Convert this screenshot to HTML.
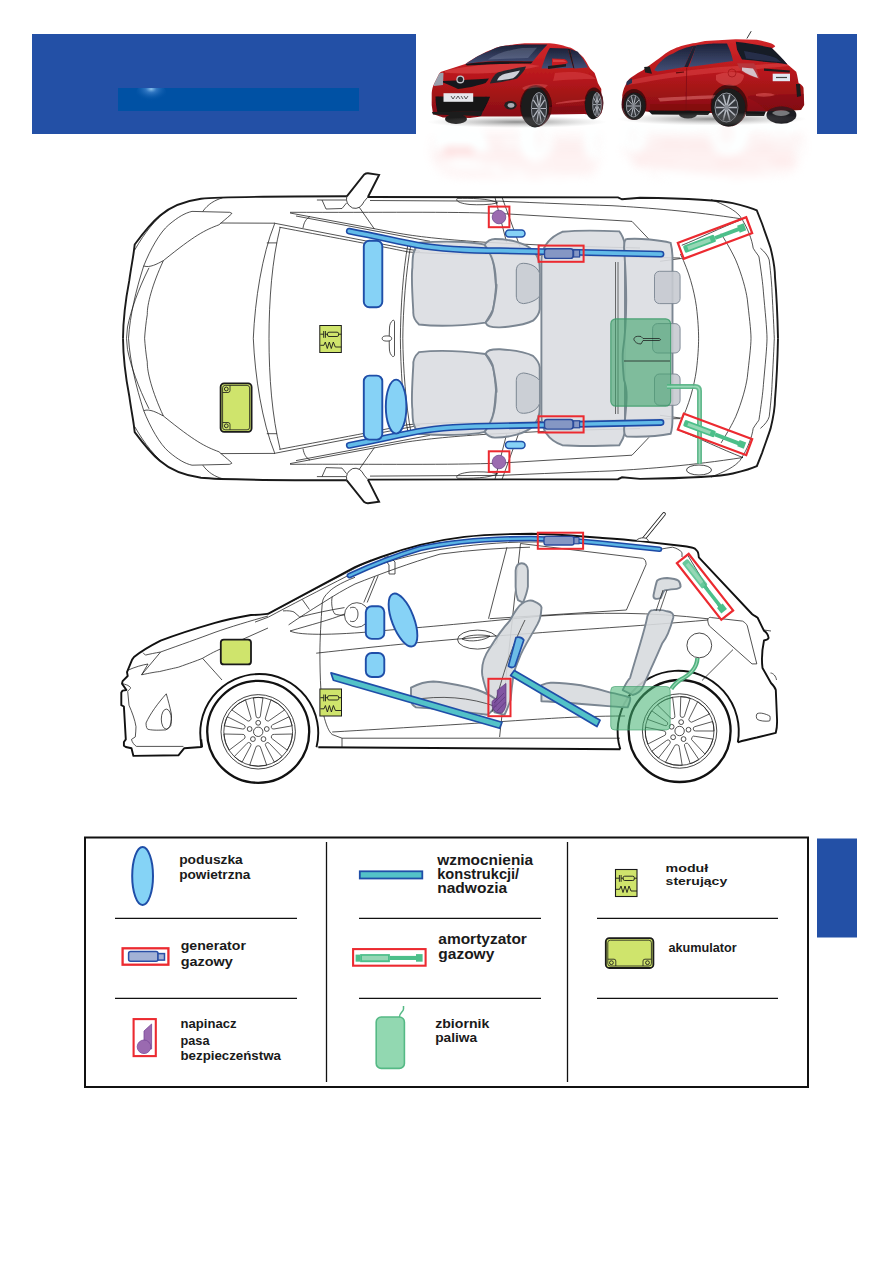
<!DOCTYPE html>
<html><head><meta charset="utf-8">
<style>
html,body{margin:0;padding:0;background:#fff;width:893px;height:1263px;overflow:hidden;}
svg{position:absolute;left:0;top:0;display:block;}
text{font-family:"Liberation Sans",sans-serif;font-weight:bold;fill:#1a1a1a;}
</style></head><body>
<svg width="893" height="1263" viewBox="0 0 893 1263">
<defs>
</defs>
<!-- HEADER -->
<rect x="32" y="34" width="384" height="100" fill="#2350a6"/>
<defs><radialGradient id="glow" cx="0.5" cy="0.3" r="0.6"><stop offset="0" stop-color="#8cc4ec" stop-opacity="1"/><stop offset="0.3" stop-color="#3f82cc" stop-opacity="0.75"/><stop offset="1" stop-color="#0051a4" stop-opacity="0"/></radialGradient></defs>
<rect x="118" y="88" width="241" height="23" fill="#0051a4"/>
<ellipse cx="151.2" cy="93" rx="15" ry="10" fill="url(#glow)"/>
<rect x="118" y="80" width="60" height="8" fill="#2350a6"/>
<rect x="817" y="34" width="40" height="100" fill="#2350a6"/>

<!-- PHOTOS placeholder -->
<g id="photos">
<defs>
 <linearGradient id="redbody" x1="0" y1="0" x2="0" y2="1">
  <stop offset="0" stop-color="#d0262a"/>
  <stop offset="0.45" stop-color="#b8181c"/>
  <stop offset="1" stop-color="#860e12"/>
 </linearGradient>
 <linearGradient id="glass" x1="0" y1="0" x2="0" y2="1">
  <stop offset="0" stop-color="#1c2238"/>
  <stop offset="1" stop-color="#424e76"/>
 </linearGradient>
 <linearGradient id="fade" x1="0" y1="0" x2="0" y2="1">
  <stop offset="0" stop-color="#fff" stop-opacity="1"/>
  <stop offset="0.45" stop-color="#fff" stop-opacity="0.75"/>
  <stop offset="1" stop-color="#fff" stop-opacity="0"/>
 </linearGradient>
 <mask id="fm1" maskUnits="userSpaceOnUse" x="400" y="124" width="420" height="90">
  <rect x="400" y="124" width="420" height="62" fill="url(#fade)"/>
 </mask>
 <radialGradient id="shadow1" cx="0.5" cy="0.5" r="0.5">
  <stop offset="0" stop-color="#444" stop-opacity="0.6"/>
  <stop offset="1" stop-color="#999" stop-opacity="0"/>
 </radialGradient>
 <filter id="blur3" x="-20%" y="-30%" width="140%" height="160%"><feGaussianBlur stdDeviation="3"/></filter>
 <filter id="reflf" x="-10%" y="-20%" width="120%" height="140%"><feGaussianBlur stdDeviation="5"/><feColorMatrix type="matrix" values="0 0 0 0 0.98  -0.6 0 0 0 1.05  -0.6 0 0 0 1.05  0 0 0 1 0"/></filter>
 <filter id="blur1" x="-10%" y="-10%" width="120%" height="120%"><feGaussianBlur stdDeviation="0.5"/></filter>
</defs>

<!-- reflections -->
<g mask="url(#fm1)">
 <g filter="url(#reflf)">
  <use href="#car1" transform="translate(0 248) scale(1 -1)"/>
  <use href="#car2" transform="translate(0 242) scale(1 -1)"/>
 </g>
</g>

<g id="car1" filter="url(#blur1)">
 <!-- body -->
 <path fill="url(#redbody)" d="M431.7 105 L431.7 93.2 C432 89 433 86 434 84 L439 74 C440 72.5 441 72 442 71.6 L465.3 64 C475 57.5 485 52 492.2 49.6 C497 47 502 46 505.6 45.6 C515 44.3 520 43.5 527.4 43.3 L549.8 43.3 C553 43.5 556 44 558.8 44.5 C565 46 570 47.5 572.2 48.4 C578 52 581 55 583.4 57.4 C586 61 588 65 590.1 68.6 L594.6 73.1 C596 77 597 80 598 83.2 L601.3 89 L601.5 113 L598 116.5 L584.5 114 L549 114.5 L519.7 116.5 L481 116.5 L470 118 L443 117.5 L433 114 Z"/>
 <ellipse cx="536" cy="106" rx="16" ry="21" fill="#3a0608" opacity="0.85"/>
 <ellipse cx="594" cy="103" rx="9.5" ry="15.5" fill="#3a0608" opacity="0.85"/>

 <!-- darker lower sill -->
 <path fill="#7d0c10" opacity="0.55" d="M549 107 C565 106.5 575 106 584.5 105.5 L584.5 111.5 L549 113.3 Z"/>
 <path fill="#ef6a6a" opacity="0.45" d="M556 103 C565 100.5 580 99.5 588 99.5 C585 101.5 570 102.8 556 104 Z"/>
 <!-- tires -->
 <ellipse cx="456" cy="119" rx="11" ry="5" fill="#1c1c1e"/>
 <ellipse cx="535" cy="107" rx="13.8" ry="20.4" fill="#1a1b1e"/>
 <ellipse cx="539" cy="108.5" rx="7.6" ry="16" fill="#34373c" stroke="#9a9ea6" stroke-width="0.9"/>
 <path d="M540.37 108.50 L545.99 108.50 M540.11 110.19 L544.66 117.15 M539.42 111.24 L541.16 122.50 M538.58 111.24 L536.84 122.50 M537.89 110.19 L533.34 117.15 M537.63 108.50 L532.01 108.50 M537.89 106.81 L533.34 99.85 M538.58 105.76 L536.84 94.50 M539.42 105.76 L541.16 94.50 M540.11 106.81 L544.66 99.85 " stroke="#b4b8c0" stroke-width="1.2" fill="none"/>
 <ellipse cx="539" cy="108.5" rx="1.52" ry="3.20" fill="#8a8e96"/>
 <ellipse cx="593" cy="105" rx="8" ry="14.2" fill="#1a1b1e"/>
 <ellipse cx="597" cy="104.6" rx="4.3" ry="12" fill="#34373c" stroke="#9a9ea6" stroke-width="0.9"/>
 <path d="M597.77 104.60 L600.96 104.60 M597.63 105.87 L600.20 111.09 M597.24 106.65 L598.22 115.10 M596.76 106.65 L595.78 115.10 M596.37 105.87 L593.80 111.09 M596.23 104.60 L593.04 104.60 M596.37 103.33 L593.80 98.11 M596.76 102.55 L595.78 94.10 M597.24 102.55 L598.22 94.10 M597.63 103.33 L600.20 98.11 " stroke="#b4b8c0" stroke-width="0.9" fill="none"/>
 <ellipse cx="597" cy="104.6" rx="0.86" ry="2.40" fill="#8a8e96"/>
 <!-- hood highlights -->
 <path fill="#e6504f" opacity="0.5" d="M445 71 C460 67 480 65 500 64 C515 63.5 530 64 540 66 C525 70 505 72 490 73 C470 74 455 73.5 445 72.5 Z"/>
 <path fill="#e85a5a" opacity="0.35" d="M555 73 C570 71 588 71 596 79 C585 79 566 79.5 553 81 Z"/>
 <path fill="#f28282" opacity="0.3" d="M522 88 C528 84 538 83 548 85 L545 88 C538 87 530 88 524 90 Z"/>
 <!-- windshield -->
 <path fill="url(#glass)" d="M465.3 64.2 C475 57.5 482 53.5 487.7 51.8 C495 48 500 46.3 505.6 45.8 C515 44.8 520 44.5 525 44.5 L547.5 44.5 C542 50 537 56 533 61.3 C520 61 500 61 490 61.3 C480 62 472 63 465.3 64.2 Z"/>
 <path fill="#a2acc4" opacity="0.28" d="M488 59.5 C496 54 508 50 522 48 L537 47.8 L528 58 Z"/>
 <path fill="#15171d" d="M465.3 64.2 C475 62.5 490 61.5 505 61.3 L533 61.5 L531 63.5 C510 63.5 490 64 467 65.5 Z"/>
 <!-- side windows -->
 <path fill="url(#glass)" d="M541.5 68.6 C544 60 547 52 549.8 47.9 L567.7 48.4 L573.3 68 Z"/>
 <path fill="url(#glass)" d="M570 49 L577.8 51.8 C582 57 585 62 587.9 67.5 L574.4 68.6 Z"/>
 <path fill="#1a1c24" d="M567.7 48.4 L570 49 L574.4 68.6 L573.3 68 Z"/>
 <!-- mirror -->
 <path fill="#c81c20" d="M552 58.5 L564 59 C566 59.6 567.7 61 567.7 63 C565 64.5 560 65.5 552 66.4 Z"/>
 <path fill="#e45858" opacity="0.6" d="M553 59.5 L563 60 C564.5 60.5 565.5 61 566 62 L553 62 Z"/>
 <path fill="#1b1b1e" d="M548 66 L566 64 L566 66.5 L548 69 Z"/>
 <!-- headlight -->
 <path fill="#25272d" d="M490 83 C492 78 494.5 74.5 497.8 72.5 C505 70.5 512 69 518 67.8 L526 66.6 C525 70 522 74 517 78.5 C510 80.5 500 82.5 490 83.5 Z"/>
 <path fill="#cdd0d8" d="M497 80.5 C498.5 77 501 74.8 505 73.8 L520 70.5 C518 74 516 76.5 513 78.3 C507 79.5 502 80.2 497 80.5 Z"/>
 <path fill="#9aa0ac" d="M434 84 L439 74 C440.5 72.8 442 72.5 443.5 73 L443 85 L434 86 Z"/>
 <!-- grille -->
 <path fill="#17171a" d="M443 81 C460 80.2 475 79.4 489 78.5 C488 80 487 81.5 485.5 83 C478 85.5 470 87.5 458 89.1 C452 86 447 84 443 82.5 Z"/>
 <circle cx="460.3" cy="79.4" r="4" fill="#c0c2c8"/>
 <circle cx="460.3" cy="79.4" r="2.7" fill="#25252a"/>
 <path fill="#121214" d="M435.5 96.5 L490 96.8 C488.5 101 486 106 483.2 111.1 L437.5 112.3 C436.2 107 435.6 102 435.5 96.5 Z"/>
 <rect x="443.5" y="93.2" width="29.7" height="8.6" fill="#e6e8ec"/>
 <path d="M451 96 L453 99 L455 96 M456 99 L458 96 L460 99 M461 96 L463 99 M464 96 L466 99 L468 96" fill="none" stroke="#333" stroke-width="0.8"/>
 <path fill="#1a1a1d" d="M432 112 L483 111 L481 116 L433 114.5 Z"/>
 <ellipse cx="510.5" cy="105.3" rx="6.2" ry="4.2" fill="#202124"/>
 <ellipse cx="511" cy="105.3" rx="3.4" ry="2.4" fill="#a8acb4"/>
</g>

<g id="car2" filter="url(#blur1)">
 <path fill="url(#redbody)" d="M622.3 108 L622.3 95 C623 90 625 86 626.2 83.8 C628 80 630 78 631.8 77 C636 74 640 72 643 70.3 C647 67 650 65 652 63.6 C657 60 662 56 665.4 53.5 C672 49 678 47 682.2 45.7 C688 44 692 43.2 695.6 42.9 L705 41 L735.8 39.2 L756.7 39.8 C763 41 768 42.5 771.5 43.5 C773.5 44.5 775 45.5 775.2 46.6 L772.1 48.4 L787.5 64.4 C791 67 794 70 796.2 71.8 C797.5 76 798 80 798.6 82.9 C801 84 803 86 803.5 87.8 L804.2 105 L801 110 L766 111.5 L745.6 112 L711 113 L650 112 L635 110 Z"/>
 <ellipse cx="634" cy="104.5" rx="12.5" ry="15.5" fill="#3a0608" opacity="0.85"/>
 <ellipse cx="729" cy="105.5" rx="18.5" ry="21" fill="#3a0608" opacity="0.85"/>

 <ellipse cx="688" cy="114.5" rx="9" ry="4" fill="#1c1c1e"/>
 <ellipse cx="634.6" cy="106.2" rx="11" ry="13.6" fill="#1a1b1e"/>
 <ellipse cx="633.5" cy="106" rx="7.2" ry="11" fill="#34373c" stroke="#9a9ea6" stroke-width="0.9"/>
 <path d="M634.80 106.00 L640.12 106.00 M634.55 107.16 L638.86 111.95 M633.90 107.88 L635.55 115.62 M633.10 107.88 L631.45 115.62 M632.45 107.16 L628.14 111.95 M632.20 106.00 L626.88 106.00 M632.45 104.84 L628.14 100.05 M633.10 104.12 L631.45 96.38 M633.90 104.12 L635.55 96.38 M634.55 104.84 L638.86 100.05 " stroke="#b4b8c0" stroke-width="1.0" fill="none"/>
 <ellipse cx="633.5" cy="106" rx="1.44" ry="2.20" fill="#8a8e96"/>
 <ellipse cx="781.4" cy="115" rx="15" ry="8.8" fill="#1e1f22"/>
 <path d="M772 113 C776 109 786 109 790 113 C786 117 776 117 772 113 Z" fill="#d0d2d6" opacity="0.5"/>
 <!-- highlights -->
 <path fill="#e24c4e" opacity="0.45" d="M628 81 C650 75 680 71 720 67 L785 63 L789 66 C750 70 700 74 670 78 C650 81 640 83 628 85 Z"/>
 <path fill="#ea6262" opacity="0.45" d="M716 75 C726 71 738 71 744 75 C744 81 739 85 733 86 C724 86 718 83 716 80 Z"/>
 <path fill="#f28a8a" opacity="0.45" d="M658 98 C690 96 710 95 726 95 L724 98 C702 99 680 100 660 101.5 Z"/>
 <path fill="#7a0a0e" opacity="0.45" d="M650 104 L711 104 L711 111.5 L650 111.5 Z"/>
 <path fill="#7a0a0e" opacity="0.4" d="M748 96 L804 94 L804 105 L801 110 L766 111.2 C762 104 752 100 748 98 Z"/>
 <path fill="#e86464" opacity="0.5" d="M756 94 C765 92 772 93 775 95 C770 97 762 97 756 96 Z"/>
 <!-- windows -->
 <path fill="url(#glass)" d="M654.2 70.3 C656 67 658 64 659.8 62.5 C664 58 668 55 673.2 53.5 C680 49 688 47 693.4 45.7 L684.4 67 L657.6 71.4 Z"/>
 <path fill="#1e2436" d="M693.4 45.7 L697 45.4 L688 67 L684.4 67 Z"/>
 <path fill="url(#glass)" d="M696.7 45.1 C705 44 710 43.5 715 43.4 L727 43.4 C730 50 732 55 733 61 L689 67 Z"/>
 <path fill="#161a28" d="M735.8 41.8 C750 43.5 762 45.5 771.5 47.8 C777 53 783 59 787.5 64.4 C780 63 772 62.5 766.6 62 C758 61 750 60 742 59.5 C740 56 738 52 737 49.6 Z"/>
 <path fill="#2e3858" opacity="0.7" d="M744 51 C756 53 768 55 776 58 L781 62 C770 61 756 60 746 58.5 Z"/>
 <path fill="#1b1b1e" d="M644.1 67 L649.7 66.4 L652 73.7 L645.2 72.6 Z"/>
 <path fill="#2a3350" d="M626.5 82 C628 80 630 79 632 78.5 L632 83 C630 84 628 85 626.5 85.5 Z"/>
 <path d="M686.7 67.5 L686 110" stroke="#7a0c10" stroke-width="0.7" fill="none"/>
 <path d="M676 72.8 L684 72" stroke="#5a0a0c" stroke-width="1.2" fill="none"/>
 <path fill="#141416" d="M648 110.5 L711 111 L708 115 L652 114.5 Z"/>
 <!-- tail light -->
 <path fill="#b8343a" d="M737 63.2 L754.3 63.2 C756 68 758 74 759.8 79.2 C753 77 747 74.5 742 71.8 C740 69 738 66 737 63.2 Z"/>
 <path fill="#d8dce4" opacity="0.85" d="M742 67.5 L753 68.5 C755 71.5 757 75 758 78 C752 76 746 73.5 742 70.5 Z"/>
 <rect x="772.7" y="73.7" width="17.3" height="7.5" fill="#e2e8f2"/>
 <path d="M776 77.5 H787" stroke="#444" stroke-width="1.2"/>
 <path fill="#1a1a1d" d="M764 68.5 L790 70.5 L789.5 72.5 L764 70.8 Z"/>
 <path fill="#1a1a1d" d="M796 84 L800 84 L801 96 L797 97 Z"/>
 <path d="M746.9 38.5 L751.2 31.2" stroke="#222" stroke-width="0.9"/>
 <circle cx="732" cy="73" r="4" fill="none" stroke="#a01216" stroke-width="0.7"/>
 <ellipse cx="728.4" cy="107.5" rx="17" ry="19" fill="#1a1b1e"/>
 <ellipse cx="726.5" cy="107.5" rx="11.5" ry="14.5" fill="#34373c" stroke="#9a9ea6" stroke-width="0.9"/>
 <path d="M728.57 107.50 L737.08 107.50 M728.17 109.03 L735.06 115.34 M727.14 109.98 L729.77 120.19 M725.86 109.98 L723.23 120.19 M724.83 109.03 L717.94 115.34 M724.43 107.50 L715.92 107.50 M724.83 105.97 L717.94 99.66 M725.86 105.02 L723.23 94.81 M727.14 105.02 L729.77 94.81 M728.17 105.97 L735.06 99.66 " stroke="#b4b8c0" stroke-width="1.6" fill="none"/>
 <ellipse cx="726.5" cy="107.5" rx="2.30" ry="2.90" fill="#8a8e96"/>
 <path fill="#141416" d="M745.6 111.2 L766 111.2 L764 116 L746 116 Z"/>
</g>

<!-- ground shadows -->
<ellipse cx="517" cy="122" rx="90" ry="6" fill="url(#shadow1)"/>
<ellipse cx="712" cy="119" rx="95" ry="6.5" fill="url(#shadow1)"/>


</g>

<!-- TOP VIEW -->
<g id="top">
<g id="tophalf" fill="none" stroke="#1a1a1a">
 <!-- outline -->
 <path stroke-width="1.9" d="M123 338.3 C123.2 318 125.5 300 129.3 280.4 C131 268 133 258 133.8 251.7 L134.7 244.5 C141 236 150 224 159.8 215.8 C170 207 185 201 201 198.8 C215 197.3 260 196.4 346.8 196.3 M367.9 197 L618 197.4 L622 199.3 L640 197.7 C690 198.5 720 200 732.8 203.1 C745 206 752 208 756.8 210.4 C759 216 761 221 762 223.5 C766 235 769 243 770.6 248.2 C774 262 775 275 775 277.3 C777 300 777.6 320 778 338.3"/>
 <!-- mirror -->
 <path stroke-width="1.9" d="M346.8 196.3 L364.2 174.5 Q366 173.2 368 173.3 L379.1 174.9 L367.9 197"/>
 <path stroke-width="0.8" d="M346.8 196.3 Q345 204 352.6 208 Q360 210 364.2 201.4 L367.9 197"/>
 <!-- thin lines -->
 <g stroke-width="0.75">
  <path d="M134.7 250 C145 232 155 220 167 210.5"/>
  <path d="M143.7 266 C150 250 160 232 168.8 224.8 C178 217 185 213 192 211.4 L229.7 212.3 Q233 213.5 231.5 214 C226 219 222 222 219 224.8 C205 230 195 235 163.4 260.6 C157 264 150 268 143.7 266 Z"/>
  <path d="M202.8 211.4 C208 204 215 200 222.5 197.9"/>
  <path d="M163.4 260.6 C152 285 147 305 147.3 314.4 C146 322 145 332 144.6 338.3"/>
  <path d="M149 267.8 C138 290 131 310 127.5 327 L126.5 338.3"/>
  <path d="M143.7 266 C136 290 130 315 128.5 338.3"/>
  <path d="M220.7 223 L275 223.2"/>
  <path d="M274.6 223.8 C262 255 255 300 253.3 338.3"/>
  <path d="M280.2 227.2 C272 260 269 300 269 338.3"/>
  <path d="M266.8 242.9 L276.9 242.9"/>
  <path d="M316.9 200 L346 200 M370 200.5 L480 201.1 L500 201.2 C540 203 580 204.5 612 205.7 C650 208 690 211 743 219.1"/>
  <path d="M322 200 L326 209 L342 208.5 L346.5 203"/>
  <path d="M290 212.3 C380 212.6 450 211.5 500 213.5 L632 221.4 L649 239.3"/>
  <path d="M290 213 L400 233.5 C420 237 450 240 486 242.3 L560 246 L640 248"/>
  <path d="M274.3 223.2 L420 251.4"/>
  <path d="M279.3 227.2 C320 235 380 246 408.4 252 C440 254 460 254 480 254 L680 258"/>
  <path d="M296 216 L430 241.3"/>
  <path d="M359.2 207.2 L374.4 229"/>
  <path d="M303 228 C304 222 306 219 310 216.5"/>
  <path d="M495 197.5 L506.6 242.3 M502.1 197.5 L520 246.8"/>
  <path d="M457.3 198.4 C470 198 490 198.5 497.7 202.9 C490 205 478 205 470 204.5 C460 203.5 455 201 457.3 198.4 Z"/>
  
  <path d="M408 244 C403 270 400.5 310 400.4 338.3"/>
  <path d="M411 244 C406 270 403 310 402.8 338.3"/>
  <path d="M680.4 254 C689 271.5 694 290 696.4 306.5 C698 320 698.6 330 698.6 338.3"/>
  <path d="M721.1 233.7 C728 245 732 252 735.7 259.9 C742 275 746 290 747.3 299.2 C749 315 751 330 751 338.3"/>
  <path d="M711 199.5 C725 205 735 210 740 216.2 C748 228 752 240 753.2 248.2 C756 253 759 256 759 257 C761 270 763 285 763.4 291.9 C765 310 767 330 767 338.3"/>
  <path d="M760.4 248.2 C765 252 768 256 769.2 259.9 C771 275 772 288 772 291.9 C773 310 774 330 774.3 338.3"/>
  <path d="M660 261.3 L681.8 258.4"/>
  <path d="M681.8 245.3 C700 238 720 228 743 219"/>
  
 </g>
</g>
<use href="#tophalf" transform="translate(0 676.6) scale(1 -1)"/>
<!-- center ornament -->
<g fill="none" stroke="#1a1a1a" stroke-width="0.75">
 <path d="M389.2 336 L389.5 328 C389.5 325 390.5 322 393 320.2 C394 320.2 394.5 320.8 394.5 321.5 L394.5 355 C394.5 356 394 356.5 392.8 356.6 C390.5 355 389.5 352 389.4 349 L389.2 341"/>
 <ellipse cx="386.9" cy="338.5" rx="4.75" ry="2.6"/>
</g>
<!-- SEATS -->
<g id="seathalf" fill="#dadde1" fill-opacity="0.9" stroke="#7b8692" stroke-width="1.9">
 <path d="M419 242.8 C440 241 470 241 484.6 244.7 C492 252 494 258 496 286.5 C495 300 494 305 493.1 309.3 C490 316 487 320 485.5 322.6 C460 326 440 327 419 324.5 C414 320 413 315 413.3 311.2 C412 290 412 270 412.4 267.5 C412.5 255 413 250 419 242.8 Z"/>
 <path d="M484.6 244.7 C488 240 492 239 495 239 C510 239 525 243 533 250.4 C538 256 539.7 262 539.7 267.5 L539.7 309.3 C539 315 536 318 533 320.7 C525 325 514 326.4 500 327.4 C490 327.6 487 326 485.5 322.6 C490 318 493 312 493.1 309.3 C497 290 497 280 496 286.5 C496 270 494 258 484.6 244.7 Z"/>
 <path stroke-width="1" fill="#c9cdd3" d="M523.5 263.3 C530 263.5 537 266 539.7 273.2 L539.7 296 C537 300 530 303 523.5 303.6 C518 303 516.5 300 516.3 296 L516.3 270 C517 265 519 263.5 523.5 263.3 Z"/>
</g>
<use href="#seathalf" transform="translate(0 676.6) scale(1 -1)"/>
<g fill="#dadde1" fill-opacity="0.9" stroke="#7b8692" stroke-width="1.9">
 <path d="M541.4 262 C541 248 548 238 562.3 231.8 C580 230 600 230.5 619.3 231.4 C623 236 624 240 625 244.7 L625 432 C624 437 622 441 619.3 445.2 C600 446 580 446.5 562.3 445.2 C548 440 541 430 541.4 414 Z"/>
 <path d="M624 247.6 C624 242 625 239 627 239 C640 238 660 240 670.6 242.8 C672 248 672.5 252 672.5 258 L672.5 418 C672.5 425 672 430 670.6 433.8 C660 436 640 437 627 436.6 C625 436 624 434 624 429 C627 400 628 390 624 380 C623 370 622 360 623 350 C626 330 628 300 624 247.6 Z"/>
 <g stroke-width="0.9" fill="#c6cad0">
  <rect x="654.5" y="271.3" width="25.6" height="32.3" rx="5"/>
  <rect x="652.6" y="323.6" width="27.5" height="29.4" rx="5"/>
  <rect x="654.5" y="374" width="25.6" height="31.3" rx="5"/>
 </g>
 <path stroke-width="0.7" stroke="#333" fill="none" d="M615.5 262 V414 M618 262 V414"/>
</g>
<!-- fuel tank -->
<rect x="610.8" y="318.8" width="59.8" height="87.4" rx="5" fill="#3fa46c" fill-opacity="0.6" stroke="#3a9a68" stroke-opacity="0.8" stroke-width="1.2"/>
<g fill="none" stroke="#1a1a1a" stroke-width="0.75">
 <path d="M624 361 H670"/>
 <path d="M641 336.5 C635 335.5 633.5 338 634 340 C635 342 637 344 641 344 L643 340.5 H659 C661 340.5 661 339 659 338.5 H643 Z"/>
</g>
<!-- fuel pipe -->
<path d="M667 386.6 H695 Q699.5 386.6 699.5 391 V463.7" fill="none" stroke="#52b282" stroke-width="5" stroke-opacity="0.9"/>
<path d="M667 386.6 H695 Q699.5 386.6 699.5 391 V463.7" fill="none" stroke="#a0dcbc" stroke-width="1.6" stroke-opacity="0.9"/>
<ellipse cx="699" cy="470" rx="12.5" ry="5" fill="none" stroke="#1a1a1a" stroke-width="0.8"/>
<!-- BARS & components (top half mirrored) -->
<g id="comphalf">
 <path d="M349.3 231.2 C380 237 400 242 417.6 245.1 C440 249 470 250.5 500 250.7 L661 254.1" fill="none" stroke="#1d4aa6" stroke-width="6.8" stroke-linecap="round"/>
 <path d="M349.3 231.2 C380 237 400 242 417.6 245.1 C440 249 470 250.5 500 250.7 L661 254.1" fill="none" stroke="#62bbe8" stroke-width="3.7" stroke-linecap="round"/>
</g>
<use href="#comphalf" transform="translate(0 676.6) scale(1 -1)"/>
<g id="compupper">
 <rect x="505.5" y="230" width="19.5" height="7" rx="3.5" fill="#86d2f6" stroke="#1f4ea8" stroke-width="1.5"/>
 <rect x="488.8" y="206.6" width="20.6" height="20.6" fill="none" stroke="#ec2a30" stroke-width="2"/>
 <circle cx="499" cy="217" r="6.8" fill="#9b6cb0" stroke="#6f4a8f" stroke-width="0.8"/>
 <rect x="538.6" y="245.6" width="45" height="16.2" fill="none" stroke="#ec2a30" stroke-width="2"/>
 <rect x="544.5" y="248.8" width="28.5" height="9.6" rx="2.5" fill="#8597c4" stroke="#2a4a9a" stroke-width="1.4"/>
 <rect x="573.6" y="250" width="6" height="7" fill="#8597c4" stroke="#2a4a9a" stroke-width="1.2"/>
 <g transform="translate(715 238) rotate(-20.5)">
  <rect x="-36.5" y="-8.5" width="73" height="17" fill="none" stroke="#ec2a30" stroke-width="2.2"/>
  <rect x="-33" y="-3.8" width="33" height="7.6" rx="1.5" fill="#4cbf8a"/>
  <rect x="-29" y="-2" width="24" height="4" fill="#95d7b5"/>
  <rect x="0" y="-2" width="26" height="4" fill="#4cbf8a"/>
  <rect x="25" y="-3.8" width="7" height="7.6" fill="#4cbf8a"/>
 </g>
</g>
<g id="complower">
 <rect x="505.5" y="441.6" width="19.5" height="7" rx="3.5" fill="#86d2f6" stroke="#1f4ea8" stroke-width="1.5"/>
 <rect x="488.8" y="451.3" width="20.6" height="20.6" fill="none" stroke="#ec2a30" stroke-width="2"/>
 <circle cx="499" cy="462" r="6.8" fill="#9b6cb0" stroke="#6f4a8f" stroke-width="0.8"/>
 <rect x="538.6" y="416.3" width="45" height="16.2" fill="none" stroke="#ec2a30" stroke-width="2"/>
 <rect x="544.5" y="419.5" width="28.5" height="9.6" rx="2.5" fill="#8597c4" stroke="#2a4a9a" stroke-width="1.4"/>
 <rect x="573.6" y="420.8" width="6" height="7" fill="#8597c4" stroke="#2a4a9a" stroke-width="1.2"/>
 <g transform="translate(715 434.4) rotate(20.5)">
  <rect x="-36.5" y="-8.5" width="73" height="17" fill="none" stroke="#ec2a30" stroke-width="2.2"/>
  <rect x="-33" y="-3.4" width="33" height="6.8" rx="1.5" fill="#4cbf8a"/>
  <rect x="-29" y="-1.6" width="24" height="3.2" fill="#95d7b5"/>
  <rect x="0" y="-2" width="26" height="4" fill="#4cbf8a"/>
  <rect x="25" y="-3.4" width="7" height="6.8" fill="#4cbf8a"/>
 </g>
</g>

<!-- airbags -->
<g fill="#86d2f6" stroke="#1f4ea8" stroke-width="1.9">
 <rect x="363.8" y="240.8" width="18.5" height="66.5" rx="5.5"/>
 <rect x="363.8" y="375.6" width="18.5" height="64" rx="5.5"/>
 <ellipse cx="396.1" cy="406.6" rx="10.3" ry="27"/>
</g>
<!-- control module -->
<g>
 <rect x="319.8" y="325.5" width="21.5" height="27" fill="#cfe46c" stroke="#1a1a1a" stroke-width="1"/>
 <path d="M320.3 334.2 H323.7 M325.4 334.2 H327.5 M338.6 334.2 H341.3 M323.7 331 V337.8 M325.4 331 V337.8 M320.3 345.3 H323.9 L325.3 342 L327.3 348.5 L329.3 342 L331.3 348.5 L333.3 342 L335.3 347 H341.3" fill="none" stroke="#1a1a1a" stroke-width="0.9"/>
 <rect x="327.5" y="332.2" width="11.1" height="4.3" rx="1.5" fill="none" stroke="#1a1a1a" stroke-width="0.9"/>
</g>
<!-- battery -->
<g>
 <rect x="220.6" y="383.4" width="31" height="48.4" rx="3.5" fill="#cfe46c" stroke="#1a1a1a" stroke-width="1.8"/>
 <rect x="222.6" y="385.4" width="27" height="44.4" rx="2.5" fill="none" stroke="#1a1a1a" stroke-width="0.8"/>
 <path d="M222.6 392.5 H228 Q230 392.5 230 390.5 V385.4 M222.6 422.5 H228 Q230 422.5 230 424.5 V429.8" fill="none" stroke="#1a1a1a" stroke-width="0.8"/>
 <circle cx="226.3" cy="389" r="1.9" fill="none" stroke="#1a1a1a" stroke-width="0.9"/>
 <circle cx="226.3" cy="425.8" r="1.9" fill="none" stroke="#1a1a1a" stroke-width="0.9"/>
</g>
</g>

<!-- SIDE VIEW -->
<g id="side">
<!-- body outline -->
<g fill="none" stroke="#111" stroke-width="1.9" stroke-linejoin="round">
 <path d="M202 747.3 L201.2 739.4 M318.3 747.3 L620.3 749.3 M737.8 742.3 C745 740 752 738.5 756.8 737.5 L775.8 732.8 C777 728 777.2 722 777 718.5 L775.8 690 C775 687 773 685 771 683 L762.5 668 C761.5 660 762 650 764 640.5 C766 640 768.5 639 768.6 637.8 C768 634 766 632 763.9 630.6 L757.5 617.5 C755 616 753 615 752 614 L698.8 557.3 C698.5 553 697.5 551 696.7 550.5 C695.5 548.8 694 548 692.7 547.8 C688 546.8 684 546.2 680.6 545.8 C665 544 650 542.2 640.3 541.1 C625 539.5 610 538.5 600 537.8 C580 536 555 534 531.6 533.7 C500 534 480 535 464.4 536.9 C430 541 400 550 381 557 C370 561 362 564 355 567.2 L268 613.8 C262 614.5 258 615 251 615 C240 617 225 620 215 622.8 C190 630 175 635 160.6 640.6 C150 646 140 652 134 657 L132.1 659.6 L127 672.2 L127.7 676 L122.6 681.1 L122 683.6 L126.4 690 L122.6 690.6 L121.3 692.5 L121.3 705.2 L123.9 706.5 L125.8 739.4 L123.9 742 L123.9 745.8 L125.8 747 L131.5 748.3 L133.4 755.9 L178.4 755.3 L184.1 748.3 L201.2 747 L201.2 739.4"/>
 <path d="M202 747.3 A59 59 0 1 1 316.5 747.3"/>
 <path d="M620.3 749.3 A60.6 60.6 0 1 1 737.8 742.3"/>
</g>
<!-- thin lines -->
<g fill="none" stroke="#1a1a1a" stroke-width="0.75">
 <path d="M142.9 652.6 L145.4 655.1 C150 654 155 653 160.6 652 C180 645 200 638 215 632.3 C230 627 250 621 268 616"/>
 <path d="M127.7 670.3 C135 667 142 665 148 664 L141.6 674.8 C150 673 155 672 159.4 671.6 C170 669 175 668 178.4 667.2 C190 663 196 661 202.5 658.3 C210 654 215 651 230 645 L268 628"/>
 <path d="M160.6 652 L141.6 674.8"/>
 <path d="M202.5 658.3 L215 672.2 L222 680"/>
 <path d="M122.6 683.6 C125 684.5 128 685 129 686.2 C130.5 687 131 688 130.2 688.7 C129 690 128 691 127.7 691.3 L129 705.2 C132 712 135 720 136 726.7 C136 730 135.5 734 135.3 736.9 L131.5 739.4 C132 742 134 745 136.5 746.4 L183.4 746.4"/>
 <path d="M166.3 693.8 C158 703 150 714 146 723 C146 727 147 729 148 729.3 C151 730 155 730.5 165.7 729.9 C168 729 170 727 170.8 725.5 C171.5 720 171.6 716 171.4 714.1 C170 707 168 700 166.3 693.8 Z"/>
 <ellipse cx="166.3" cy="719.1" rx="5" ry="10"/>
 <path d="M268 613.8 L371 560"/>
 <path d="M268.4 617.1 C290 605.5 320 590 348 575.6 C380 563 410 555 440 549.5 C470 545 500 542 530 542 C580 541.5 620 544 650 547"/>
 <path d="M288.6 624.9 C300 617 311 610 322.2 603.1 C335 595 345 589 355 584 C380 574 410 563 440 554.1 C470 550 500 548 530 547.2"/>
 <path d="M355 577.3 C340 583 331 589 327.8 593 C323.5 597 322.2 601 322.2 604 C321 620 319.9 640 319.9 653.2 C320 680 321 700 323.6 714.8 C326 725 329 732 332.2 734.5 L342 738.2"/>
 <path d="M374.9 576.3 L363.8 602.5 M378.2 575.5 L367.2 602.5 M302.3 599.5 L309.4 609.5"/>
 <circle cx="356.8" cy="615" r="12.3"/>
 <path d="M332.2 596.5 C331 603 332 610 334.6 613.8 C337 615 341 615.5 344.5 615"/>
 <path d="M350 608 C354 606 358 608 358 614 C358 620 354 623 350 621"/>
 <path d="M290 631 C310 625 330 620 344.5 614"/>
 <path d="M255 622.1 L268.4 617.1 M283 610.9 C288 610.5 292 611 294 612 L299.8 617.1 C315 613 330 610 344.5 607.6"/>
 <path d="M290 631 C300 636 340 635 390 630 C450 625 500 620 542 616 C600 612 650 612 708 618.8"/>
 <path d="M316.2 653.2 C380 646 450 639 530 633.5 C600 628 640 626 708 620"/>
 <path d="M507 547.2 L488.5 618.7"/>
 <path d="M520.5 543.5 L499.6 737"/>
 <path d="M520.5 543.5 L642.5 558.3 C645 559 646 561 646.1 564.5 L626.4 610 L489.7 618.7"/>
 <ellipse cx="477.5" cy="639.6" rx="20" ry="9.5"/>
 <path d="M462 639 C466 635 480 634 490 636 C486 640 470 643 462 639 Z"/>
 <path d="M332.2 732 C400 728 450 725 530 719.7 C570 717 600 716 625 716"/>
 <path d="M342 738.2 L620 738.2 M342 738.2 L342 748"/>
 <path d="M384 558 L389 556 L395 562 L395 574 L389 574 L389 565 Z"/>
 <path d="M708 618.8 C709 617.5 710 617 711.6 617.6 L742.5 621.1 C745 622.5 746.5 624 747.3 625.9 L756.8 663.9 L752 663.9 L709.3 625.9 C708 623 707.5 621 708 618.8 Z"/>
 <path d="M733 649.6 L702 680.5"/>
 <path d="M757 713.8 C760 712 766 714 769.8 716 C770.5 718 770 720.5 769.5 721 C765 721.5 760 721 757.5 719.5 C756 718 756 715 757 713.8 Z"/>
 <path d="M770.5 673 C773 673 776 676 776.5 680 M764 630 L771 631"/>
 <path d="M660.5 549.2 C665 548.5 669 547.5 672.6 547.2 C676 548 680 550 682 552.5 L682 557"/>
 <path d="M687 554 L722 612"/>
</g>
<!-- antenna -->
<path d="M644 538.5 L664 514" fill="none" stroke="#1a1a1a" stroke-width="3.6" stroke-linecap="round"/>
<path d="M644 538.5 L664 514" fill="none" stroke="#fff" stroke-width="2" stroke-linecap="round"/>
<path d="M636.3 540.5 C638 538.5 641 537.8 643.5 537.8 C646 538 648 539 648.4 541.1" fill="#fff" stroke="#1a1a1a" stroke-width="0.8"/>
<circle cx="258.2" cy="731.8" r="51" fill="#fff" stroke="#111" stroke-width="2.3"/>
<circle cx="258.2" cy="731.8" r="37.2" fill="none" stroke="#222" stroke-width="0.85"/>
<circle cx="258.2" cy="731.8" r="34.4" fill="none" stroke="#222" stroke-width="0.8"/>
<circle cx="258.2" cy="731.8" r="4.7" fill="none" stroke="#222" stroke-width="0.8"/>
<circle cx="258.20" cy="722.80" r="2.4" fill="none" stroke="#222" stroke-width="0.8"/>
<circle cx="266.76" cy="729.02" r="2.4" fill="none" stroke="#222" stroke-width="0.8"/>
<circle cx="263.49" cy="739.08" r="2.4" fill="none" stroke="#222" stroke-width="0.8"/>
<circle cx="252.91" cy="739.08" r="2.4" fill="none" stroke="#222" stroke-width="0.8"/>
<circle cx="249.64" cy="729.02" r="2.4" fill="none" stroke="#222" stroke-width="0.8"/>
<path d="M256.01 715.95 L253.42 697.73 A34.4 34.4 0 0 1 262.98 697.73 L260.39 715.95 A2.2 2.2 0 0 1 256.01 715.95 Z M265.68 717.09 L270.91 699.83 A34.4 34.4 0 0 1 284.68 709.84 L269.87 720.14 A2.6 2.6 0 0 1 265.68 717.09 Z M272.60 724.82 L289.12 716.72 A34.4 34.4 0 0 1 292.08 725.82 L273.95 728.99 A2.2 2.2 0 0 1 272.60 724.82 Z M274.50 734.37 L292.53 734.01 A34.4 34.4 0 0 1 287.27 750.19 L272.90 739.30 A2.6 2.6 0 0 1 274.50 734.37 Z M269.29 743.33 L282.09 756.55 A34.4 34.4 0 0 1 274.35 762.17 L265.74 745.91 A2.2 2.2 0 0 1 269.29 743.33 Z M260.79 748.10 L266.71 765.13 A34.4 34.4 0 0 1 249.69 765.13 L255.61 748.10 A2.6 2.6 0 0 1 260.79 748.10 Z M250.66 745.91 L242.05 762.17 A34.4 34.4 0 0 1 234.31 756.55 L247.11 743.33 A2.2 2.2 0 0 1 250.66 745.91 Z M243.50 739.30 L229.13 750.19 A34.4 34.4 0 0 1 223.87 734.01 L241.90 734.37 A2.6 2.6 0 0 1 243.50 739.30 Z M242.45 728.99 L224.32 725.82 A34.4 34.4 0 0 1 227.28 716.72 L243.80 724.82 A2.2 2.2 0 0 1 242.45 728.99 Z M246.53 720.14 L231.72 709.84 A34.4 34.4 0 0 1 245.49 699.83 L250.72 717.09 A2.6 2.6 0 0 1 246.53 720.14 Z " fill="none" stroke="#222" stroke-width="0.75" stroke-linejoin="round"/>
<circle cx="679.6" cy="731" r="51" fill="#fff" stroke="#111" stroke-width="2.3"/>
<circle cx="679.6" cy="731" r="37.2" fill="none" stroke="#222" stroke-width="0.85"/>
<circle cx="679.6" cy="731" r="34.4" fill="none" stroke="#222" stroke-width="0.8"/>
<circle cx="679.6" cy="731" r="4.7" fill="none" stroke="#222" stroke-width="0.8"/>
<circle cx="681.16" cy="722.14" r="2.4" fill="none" stroke="#222" stroke-width="0.8"/>
<circle cx="688.51" cy="729.75" r="2.4" fill="none" stroke="#222" stroke-width="0.8"/>
<circle cx="683.55" cy="739.09" r="2.4" fill="none" stroke="#222" stroke-width="0.8"/>
<circle cx="673.13" cy="737.25" r="2.4" fill="none" stroke="#222" stroke-width="0.8"/>
<circle cx="671.65" cy="726.77" r="2.4" fill="none" stroke="#222" stroke-width="0.8"/>
<path d="M680.19 715.01 L680.80 696.62 A34.4 34.4 0 0 1 690.23 698.28 L684.51 715.77 A2.2 2.2 0 0 1 680.19 715.01 Z M689.52 717.82 L697.66 701.72 A34.4 34.4 0 0 1 709.49 713.97 L693.12 721.54 A2.6 2.6 0 0 1 689.52 717.82 Z M694.99 726.62 L712.67 721.52 A34.4 34.4 0 0 1 714.00 731.00 L695.60 730.97 A2.2 2.2 0 0 1 694.99 726.62 Z M695.20 736.36 L713.02 739.13 A34.4 34.4 0 0 1 705.03 754.16 L692.77 740.94 A2.6 2.6 0 0 1 695.20 736.36 Z M688.52 744.28 L698.83 759.52 A34.4 34.4 0 0 1 690.23 763.72 L684.58 746.21 A2.2 2.2 0 0 1 688.52 744.28 Z M679.32 747.50 L682.19 765.30 A34.4 34.4 0 0 1 665.43 762.35 L674.22 746.60 A2.6 2.6 0 0 1 679.32 747.50 Z M669.72 743.59 L658.42 758.11 A34.4 34.4 0 0 1 651.77 751.22 L666.68 740.43 A2.2 2.2 0 0 1 669.72 743.59 Z M663.82 735.83 L647.78 744.07 A34.4 34.4 0 0 1 645.41 727.21 L663.10 730.70 A2.6 2.6 0 0 1 663.82 735.83 Z M664.58 725.50 L647.28 719.23 A34.4 34.4 0 0 1 651.77 710.78 L666.64 721.62 A2.2 2.2 0 0 1 664.58 725.50 Z M670.13 717.49 L657.34 704.77 A34.4 34.4 0 0 1 672.64 697.31 L674.78 715.22 A2.6 2.6 0 0 1 670.13 717.49 Z " fill="none" stroke="#222" stroke-width="0.75" stroke-linejoin="round"/>
<!-- seats -->
<g fill="#d7dade" fill-opacity="0.9" stroke="#7b8692" stroke-width="1.9" stroke-linejoin="round">
 <path d="M515.6 570.6 C516 566 518 563.3 521.7 563.3 C525 563.3 527.9 566 527.9 570.6 L527.9 586.7 C527 593 525 598 523 602.7 L518 600.2 C516 595 515.6 590 515.6 586.7 Z"/>
 <path d="M482.3 675.4 C481 665 485 655 489.7 648.3 C496 638 503 628 509.4 621.2 C514 613 518 606 521.7 603.9 C526 600 532 600 534.1 601.4 C540 604 542 607 541.4 608.8 C541 615 540 620 537.8 623.6 C530 638 523 648 519.3 658.1 C516 665 514 672 513.1 677.8 C512 685 511 695 510.6 700 C508 707 506 712 504.5 714.8 L494.6 712.3 C490 700 485 690 482.3 675.4 Z"/>
 <path d="M411 687.7 C418 684 425 681.5 433.2 681.5 C445 682 458 685 470 687.7 C480 690 490 695 497.2 700 C495 707 492 712 487.4 714.8 C465 712 440 709 416 707.4 C412 705 411 702 411 700 Z"/>
 <path d="M653.5 595.3 C655 588 656 583 657.2 580.5 C660 578.5 663 578 667.1 578 C672 578.5 676 579 678.2 580.5 C680 582 680.6 584 680.6 586.7 C680 588 677 589 674.5 589.1 C670 589.5 666 590 664.6 590.4 C663 592 662 595 660.9 597.8 C657 599.5 653 599.5 653.5 595.3 Z"/>
 <path d="M622.7 690.1 C625 685 628 680 630.1 677.8 C638 650 645 630 647.4 616.2 C649 612 650 610 653.5 610 C660 609.5 664 610 667.1 611.3 C672 612 674 614 673.3 617.5 C670 630 665 640 662.2 643.3 C655 660 648 675 642.5 687.7 C640 692 636 694 632.6 695 Z"/>
 <path d="M541.4 685.2 C545 683.5 548 682.5 551.3 682.7 C560 682.5 570 683.5 580.9 685.2 C595 688 602 690 610.4 692.6 C618 694 625 696 630.1 697.5 C631 700 629 704 627.7 707.4 C620 707 612 706.5 608 706.1 C585 704 560 702 541.4 701.2 Z"/>
 <path fill="none" stroke-width="0.8" stroke="#333" d="M667 590 L659.7 611.3 M663 590 L656 611 M492 712 C500 690 505 660 525 620 M412 700 C440 695 470 697 497 707"/>
</g>
<!-- roof bar -->
<path d="M349.4 575.6 C370 566 395 556 420 548.5 C450 542 490 538.5 531 538.5 C560 539 585 541.5 600 543 C620 545 640 547 659.5 549.2" fill="none" stroke="#1d4aa6" stroke-width="5.6" stroke-linecap="round"/>
<path d="M349.4 575.6 C370 566 395 556 420 548.5 C450 542 490 538.5 531 538.5 C560 539 585 541.5 600 543 C620 545 640 547 659.5 549.2" fill="none" stroke="#5ab4e4" stroke-width="2.4" stroke-linecap="round"/>
<!-- floor/B-pillar bars -->
<g fill="#53c2c8" stroke="#1f4ea8" stroke-width="1.7" stroke-linejoin="round">
 <path d="M331 672.9 L333.4 680.3 L499.6 728.3 L502 722.2 Z"/>
 <path d="M510.6 675.4 L514.3 670.4 L600.1 720.2 L596.9 726.6 Z"/>
 <path d="M516 637.5 Q521 636 523.8 640 L515 666 Q512 669 508.4 666 Z" fill="#6cbce6"/>
</g>
<!-- airbags -->
<g fill="#86d2f6" stroke="#1f4ea8" stroke-width="1.9">
 <rect x="365.8" y="606.2" width="18.5" height="32.7" rx="6"/>
 <rect x="365.8" y="653" width="18.5" height="24" rx="6"/>
 <ellipse cx="403" cy="620" rx="11" ry="28" transform="rotate(-21 403 620)"/>
</g>
<!-- red boxes -->
<rect x="537.8" y="532.7" width="45.3" height="16.1" fill="none" stroke="#ec2a30" stroke-width="2"/>
<rect x="544" y="536.3" width="30" height="8.7" rx="2.2" fill="#8597c4" stroke="#2a4a9a" stroke-width="1.3"/>
<rect x="574" y="537.4" width="5" height="6.4" fill="#8597c4" stroke="#2a4a9a" stroke-width="1.1"/>
<rect x="488.4" y="678.8" width="22.1" height="37.4" fill="none" stroke="#ec2a30" stroke-width="2"/>
<path d="M497.3 690.2 L506 683.4 L506 705.2 C505 709 503.5 712 501.7 713.1 C498 713.5 495 712 493 709.2 C492 706 491.8 703 492.2 701.3 C493.5 699.5 495.5 698.5 497.3 698.1 Z" fill="#7a4a9c" fill-opacity="0.92" stroke="#5a3478" stroke-width="0.7"/>
<path d="M494 703 L504 693 M493.5 708 L505 697 M497 711 L505.5 702" stroke="#4a2a66" stroke-width="0.5" fill="none"/>
<g transform="translate(705 586.8) rotate(51.9)">
 <rect x="-36" y="-7.5" width="72" height="15" fill="none" stroke="#ec2a30" stroke-width="2.2"/>
 <rect x="-33" y="-3.6" width="33" height="7.2" rx="1.5" fill="#4cbf8a" fill-opacity="0.85"/>
 <rect x="-29" y="-1.8" width="24" height="3.6" fill="#95d7b5"/>
 <rect x="-1" y="-1.8" width="26" height="3.6" fill="#4cbf8a"/>
 <rect x="24" y="-3.6" width="7" height="7.2" fill="#4cbf8a"/>
</g>
<!-- fuel -->
<circle cx="699.3" cy="645.4" r="12.4" fill="#fff" stroke="#1a1a1a" stroke-width="0.8"/>
<path d="M697.4 658 C697 668 690 675 680 680 C676 683 673 686 671.3 689" fill="none" stroke="#4fb07e" stroke-width="4.4"/>
<path d="M697.4 658 C697 668 690 675 680 680 C676 683 673 686 671.3 689" fill="none" stroke="#9ad8b6" stroke-width="1.2"/>
<rect x="610.7" y="686.5" width="59.5" height="43.5" rx="4" fill="#3fb070" fill-opacity="0.55" stroke="#3a9a68" stroke-opacity="0.6" stroke-width="1"/>
<!-- control module -->
<g>
 <rect x="319.9" y="689" width="21.6" height="27" fill="#cfe46c" stroke="#1a1a1a" stroke-width="1"/>
 <path d="M320.4 697.7 H323.8 M325.5 697.7 H327.6 M338.7 697.7 H341.4 M323.8 694.5 V701.3 M325.5 694.5 V701.3 M320.4 708.8 H324 L325.4 705.5 L327.4 712 L329.4 705.5 L331.4 712 L333.4 705.5 L335.4 710.5 H341.4" fill="none" stroke="#1a1a1a" stroke-width="0.9"/>
 <rect x="327.6" y="695.7" width="11.1" height="4.3" rx="1.5" fill="none" stroke="#1a1a1a" stroke-width="0.9"/>
</g>
<rect x="220.8" y="639.6" width="30.2" height="24.8" rx="3" fill="#cfe46c" stroke="#1a1a1a" stroke-width="1.8"/>
</g>

<!-- LEGEND -->

<g id="legend">
<rect x="85" y="837.5" width="723" height="249.5" fill="none" stroke="#111" stroke-width="2"/>
<line x1="326.5" y1="842" x2="326.5" y2="1082" stroke="#111" stroke-width="1.3"/>
<line x1="567.5" y1="842" x2="567.5" y2="1082" stroke="#111" stroke-width="1.3"/>
<g stroke="#111" stroke-width="1.2">
<line x1="115" y1="918.3" x2="297" y2="918.3"/>
<line x1="115" y1="998.4" x2="297" y2="998.4"/>
<line x1="359" y1="918.3" x2="541" y2="918.3"/>
<line x1="359" y1="998.4" x2="541" y2="998.4"/>
<line x1="597" y1="918.4" x2="778" y2="918.4"/>
<line x1="597" y1="998.4" x2="778" y2="998.4"/>
</g>
<rect x="817" y="838.5" width="40" height="99" fill="#2350a6"/>
<!-- icons -->
<ellipse cx="142.6" cy="876" rx="10.4" ry="29" fill="#85d3f6" stroke="#1f4ea8" stroke-width="2"/>
<rect x="122.6" y="948.3" width="45.8" height="16.4" fill="none" stroke="#ec2a30" stroke-width="2.3"/>
<rect x="128.6" y="951.6" width="29.4" height="9.6" rx="2" fill="#a3b2d6" stroke="#2a4fa6" stroke-width="1.5"/>
<rect x="158" y="953.6" width="6.5" height="6.5" fill="#a3b2d6" stroke="#2a4fa6" stroke-width="1.5"/>
<rect x="133.6" y="1019.1" width="22.2" height="37" fill="none" stroke="#ec2a30" stroke-width="2.1"/>
<path d="M144 1031 L151.6 1024 L151.6 1049 L144 1049 Z" fill="#9a6ab0" stroke="#7a4a98" stroke-width="0.8"/>
<circle cx="144" cy="1046.8" r="6.8" fill="#9a6ab0" stroke="#7a4a98" stroke-width="0.8"/>
<rect x="359.8" y="871.3" width="62.5" height="7.2" fill="#53c2c8" stroke="#1f4ea8" stroke-width="1.8"/>
<rect x="353.1" y="949.1" width="72.5" height="16.6" fill="none" stroke="#ec2a30" stroke-width="2.1"/>
<g fill="#4cbf8a">
<rect x="355.6" y="954.6" width="4.6" height="7.1"/>
<rect x="360.1" y="954.1" width="29.8" height="8.1"/>
<rect x="389.9" y="955.9" width="26.1" height="4.1"/>
<rect x="416" y="954.1" width="6.6" height="7.6"/>
</g>
<rect x="362" y="955.8" width="26" height="4.5" fill="#95d7b5"/>
<rect x="376.2" y="1017" width="28.2" height="51.4" rx="5" fill="#92d8b1" stroke="#55b985" stroke-width="1.6"/>
<path d="M399.5 1017 C399 1013 403.5 1012 403.5 1009 L403.5 1006" fill="none" stroke="#55b985" stroke-width="1.5"/>
<g>
<rect x="615.5" y="869.5" width="21.5" height="27" fill="#cfe46c" stroke="#1a1a1a" stroke-width="1.1"/>
<path d="M616 878.2 H619.4 M621.1 878.2 H623.2 M634.3 878.2 H637 M619.4 875 V881.8 M621.1 875 V881.8 M616 889.3 H619.6 L621 886 L623 892.5 L625 886 L627 892.5 L629 886 L631 891 H637" fill="none" stroke="#1a1a1a" stroke-width="0.9"/>
<rect x="623.2" y="876.2" width="11.1" height="4.3" rx="1.5" fill="none" stroke="#1a1a1a" stroke-width="0.9"/>
</g>
<g>
<rect x="605.8" y="938.2" width="47.6" height="29.8" rx="3.5" fill="#cfe46c" stroke="#1a1a1a" stroke-width="1.8"/>
<rect x="607.8" y="940.2" width="43.6" height="25.8" rx="2.5" fill="none" stroke="#1a1a1a" stroke-width="0.8"/>
<path d="M607.8 959.2 H614 Q615.8 959.2 615.8 961 V966 M651.4 959.2 H645 Q643 959.2 643 961 V966" fill="none" stroke="#1a1a1a" stroke-width="0.8"/>
<circle cx="611.4" cy="962.7" r="1.9" fill="none" stroke="#1a1a1a" stroke-width="0.9"/>
<circle cx="647.5" cy="962.7" r="1.9" fill="none" stroke="#1a1a1a" stroke-width="0.9"/>
</g>
<!-- texts -->
<g style="font-size:12.5px">
<text x="179.2" y="863.5" textLength="63.6" lengthAdjust="spacingAndGlyphs">poduszka</text>
<text x="179.2" y="878.6" textLength="71.2" lengthAdjust="spacingAndGlyphs">powietrzna</text>
<text x="180.7" y="950.2" textLength="65.2" lengthAdjust="spacingAndGlyphs">generator</text>
<text x="180.7" y="965.6" textLength="52.2" lengthAdjust="spacingAndGlyphs">gazowy</text>
<text x="180.5" y="1028.1" textLength="56" lengthAdjust="spacingAndGlyphs">napinacz</text>
<text x="180.5" y="1044.9" textLength="29" lengthAdjust="spacingAndGlyphs">pasa</text>
<text x="180.5" y="1060.3" textLength="100.4" lengthAdjust="spacingAndGlyphs">bezpieczeństwa</text>
</g>
<g style="font-size:14.5px">
<text x="437.2" y="864.6" textLength="96" lengthAdjust="spacingAndGlyphs">wzmocnienia</text>
<text x="437.2" y="878.7" textLength="82" lengthAdjust="spacingAndGlyphs">konstrukcji/</text>
<text x="437.2" y="892.8" textLength="70" lengthAdjust="spacingAndGlyphs">nadwozia</text>
<text x="438.3" y="943.8" textLength="88.6" lengthAdjust="spacingAndGlyphs">amortyzator</text>
<text x="438.3" y="958.7" textLength="56" lengthAdjust="spacingAndGlyphs">gazowy</text>
</g>
<g style="font-size:13.5px">
<text x="435.2" y="1027.7" textLength="54.1" lengthAdjust="spacingAndGlyphs">zbiornik</text>
<text x="435.2" y="1041.8" textLength="42" lengthAdjust="spacingAndGlyphs">paliwa</text>
</g>
<g style="font-size:11px">
<text x="665.6" y="871.6" textLength="42.6" lengthAdjust="spacingAndGlyphs">moduł</text>
<text x="665.6" y="884.7" textLength="61.6" lengthAdjust="spacingAndGlyphs">sterujący</text>
</g>
<text x="668.4" y="951.9" style="font-size:13.5px" textLength="68.3" lengthAdjust="spacingAndGlyphs">akumulator</text>
</g>
</svg>
</body></html>
